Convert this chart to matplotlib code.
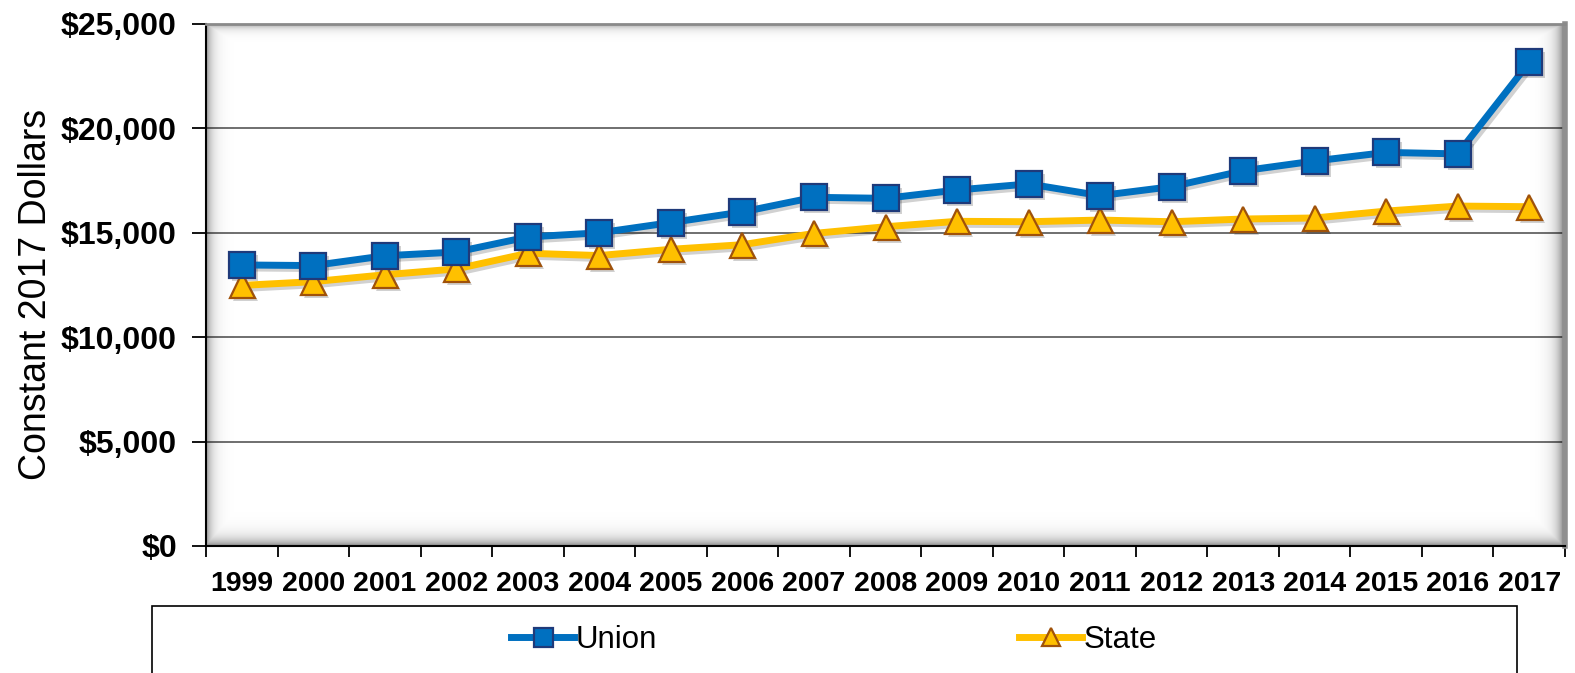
#!/usr/bin/env python

"""
  Union vs State average, constant 2017 dollars, 1999-2017.
"""

import matplotlib
matplotlib.use("Agg")
import matplotlib.pyplot as plt
import matplotlib.transforms as mtransforms
from matplotlib.patches import Rectangle
from matplotlib.ticker import FuncFormatter, FixedLocator
import numpy as np

#-----
# Data
#-----
years = ["1999", "2000", "2001", "2002", "2003", "2004", "2005", "2006", "2007",
         "2008", "2009", "2010", "2011", "2012", "2013", "2014", "2015", "2016",
         "2017"]
union = [13460, 13430, 13900, 14080, 14800, 15000, 15490, 16000, 16700,
         16650, 17050, 17340, 16780, 17210, 17970, 18440, 18850, 18780, 23160]
state = [12480, 12660, 12990, 13270, 14020, 13910, 14210, 14430, 14970,
         15290, 15550, 15530, 15610, 15530, 15660, 15710, 16040, 16280, 16250]
yticks = [0, 5000, 10000, 15000, 20000, 25000]

plt.rcParams['font.family'] = ['Liberation Sans', 'DejaVu Sans']

W, H, DPI = 1575, 673, 100
fig = plt.figure(figsize=(W / DPI, H / DPI), dpi=DPI)
ax = fig.add_axes([206 / W, 1 - 546 / H, (1565 - 206) / W, (546 - 24) / H])

x = np.arange(len(years))
ax.set_xlim(-0.5, len(years) - 0.5)
ax.set_ylim(0, 25000)

#---------------------------
# gridlines + inner shading
#---------------------------
ax.set_axisbelow(True)
ax.yaxis.grid(True, color="#6f6f6f", linewidth=1.4)

ph, pw = 522, 1359
yy, xx = np.mgrid[0:ph, 0:pw]
shade = np.maximum.reduce([
    0.40 * np.exp(-xx / 6.0),
    0.55 * np.exp(-(pw - 1 - xx) / 7.0),
    0.35 * np.exp(-yy / 4.0),
    0.45 * np.exp(-(ph - 1 - yy) / 7.0),
])
rgba = np.zeros((ph, pw, 4))
rgba[..., 3] = shade
ax.imshow(rgba, extent=(-0.5, len(years) - 0.5, 0, 25000), aspect="auto",
          zorder=1, interpolation="bilinear")

#--------------------
# series with shadow
#--------------------
shadow = mtransforms.offset_copy(ax.transData, fig=fig, x=3, y=-3, units="dots")
for vals, mk, ms in [(union, "s", 19), (state, "^", 18)]:
    ax.plot(x, vals, color="k", alpha=0.18, linewidth=5, marker=mk,
            markersize=ms, markeredgewidth=0, transform=shadow, zorder=2)

ax.plot(x, union, color="#0070C0", linewidth=5, marker="s", markersize=19,
        markerfacecolor="#0070C0", markeredgecolor="#1F3A7A",
        markeredgewidth=1.6, label="Union", zorder=4)
ax.plot(x, state, color="#FFC000", linewidth=5, marker="^", markersize=18,
        markerfacecolor="#FFC000", markeredgecolor="#A0520A",
        markeredgewidth=1.6, label="State", zorder=3)

#-----
# axes
#-----
ax.yaxis.set_major_locator(FixedLocator(yticks))
ax.yaxis.set_major_formatter(FuncFormatter(lambda v, p: "${:,.0f}".format(v)))
ax.tick_params(axis="y", direction="out", length=10, width=1.3, pad=11,
               labelsize=23)
for lab in ax.get_yticklabels():
    lab.set_fontweight("bold")

ax.set_xticks(np.arange(len(years) + 1) - 0.5)
ax.set_xticklabels([])
ax.tick_params(axis="x", which="major", direction="out", length=8, width=1.3)
ax.set_xticks(x, minor=True)
ax.set_xticklabels(years, minor=True, fontsize=20.5, fontweight="bold")
ax.tick_params(axis="x", which="minor", length=0, pad=18)

ax.spines["left"].set_color("k")
ax.spines["left"].set_linewidth(1.5)
ax.spines["bottom"].set_color("k")
ax.spines["bottom"].set_linewidth(1.5)
ax.spines["top"].set_color("#8a8a8a")
ax.spines["top"].set_linewidth(2)
ax.spines["right"].set_color("#8f8f8f")
ax.spines["right"].set_linewidth(4)

fig.text(36 / W, 1 - 294 / H, "Constant 2017 Dollars", rotation=90,
         ha="center", va="center", fontsize=27)

#--------
# legend
#--------
fig.patches.append(Rectangle((152 / W, -0.05), (1517 - 152) / W, 1.05 - 606 / H,
                             transform=fig.transFigure, fill=False,
                             edgecolor="k", linewidth=1.2))
fig.legend(loc="center", bbox_to_anchor=(834 / W, 1 - 640 / H), ncol=2,
           frameon=False, fontsize=22.5, handlelength=2.0, handletextpad=0.05,
           columnspacing=11.6, markerscale=0.72)

plt.savefig("out.png", dpi=DPI)
